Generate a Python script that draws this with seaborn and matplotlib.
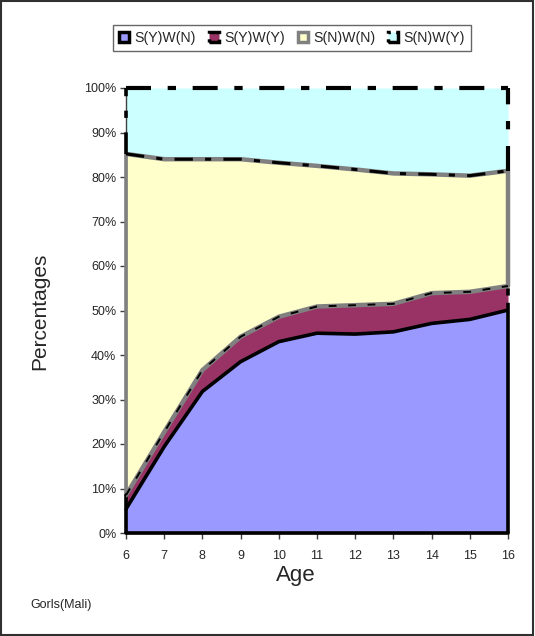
import matplotlib
matplotlib.use("Agg")
import matplotlib.pyplot as plt
from matplotlib.patches import Patch, Rectangle
import numpy as np
import pandas as pd
import seaborn as sns

# Age groups and share (%) of girls in each category
ages = [6, 7, 8, 9, 10, 11, 12, 13, 14, 15, 16]
syw_n = [5.4, 19.4, 31.8, 38.5, 43.0, 44.9, 44.7, 45.2, 47.1, 48.0, 50.1]
syw_y = [3.1, 3.3, 4.8, 5.6, 5.6, 6.0, 6.5, 6.3, 6.8, 6.2, 5.4]
snw_n = [76.7, 61.3, 47.4, 39.9, 34.6, 31.6, 30.5, 29.3, 26.7, 26.1, 25.9]
snw_y = [14.8, 16.0, 16.0, 16.0, 16.8, 17.5, 18.3, 19.2, 19.4, 19.7, 18.6]
series_names = ["S(Y)W(N)", "S(Y)W(Y)", "S(N)W(N)", "S(N)W(Y)"]
y_ticks = [0, 10, 20, 30, 40, 50, 60, 70, 80, 90, 100]

df = pd.DataFrame({"Age": ages, series_names[0]: syw_n, series_names[1]: syw_y,
                   series_names[2]: snw_n, series_names[3]: snw_y})
vals = df[series_names].to_numpy()
vals = vals / vals.sum(axis=1, keepdims=True) * 100.0
cum = np.cumsum(vals, axis=1)

sns.set_theme(style="white")
plt.rcParams["font.family"] = ["Liberation Sans", "DejaVu Sans"]

fig = plt.figure(figsize=(5.35, 6.36), dpi=100)
ax = fig.add_axes([126 / 535, 1 - 533 / 636, (508 - 126) / 535, (533 - 88) / 636])

fills = ["#9999FF", "#993366", "#FFFFCC", "#CCFFFF"]
x = df["Age"].to_numpy()
lower = np.zeros(len(x))
for i, name in enumerate(series_names):
    upper = cum[:, i]
    ax.fill_between(x, lower, upper, color=fills[i], linewidth=0, zorder=1)
    lower = upper

# Series outlines (Excel-like borders)
lw = 2.6
# blue series: solid black outline (bottom, sides, top)
ax.plot([x[0], x[0]], [0, cum[0, 0]], color="black", lw=lw, zorder=5, clip_on=False, solid_capstyle="butt")
ax.plot([x[-1], x[-1]], [0, cum[-1, 0]], color="black", lw=lw, zorder=5, clip_on=False, solid_capstyle="butt")
ax.plot([x[0], x[-1]], [0, 0], color="black", lw=lw, zorder=5, clip_on=False)
sns.lineplot(x=x, y=cum[:, 0], ax=ax, color="black", lw=lw, zorder=6)

# maroon series: grey/black dashed top
ax.plot([x[-1], x[-1]], [cum[-1, 0], cum[-1, 1]], color="black", lw=lw, ls=(0, (2, 2)), zorder=5, clip_on=False)
sns.lineplot(x=x, y=cum[:, 1], ax=ax, color="#808080", lw=lw + 0.6, zorder=6)
sns.lineplot(x=x, y=cum[:, 1], ax=ax, color="black", lw=1.4, ls=(0, (4, 6)), zorder=7)

# yellow series: grey outline on sides
ax.plot([x[0], x[0]], [cum[0, 1], cum[0, 2]], color="#808080", lw=lw, zorder=5, clip_on=False)
ax.plot([x[-1], x[-1]], [cum[-1, 1], cum[-1, 2]], color="#808080", lw=lw + 0.6, zorder=5, clip_on=False)
ax.plot([x[0], x[0]], [cum[0, 0], cum[0, 1]], color="black", lw=lw, zorder=5, clip_on=False)

# cyan series: dash-dot black outline
sns.lineplot(x=x, y=cum[:, 2], ax=ax, color="#808080", lw=lw + 0.6, zorder=6)
sns.lineplot(x=x, y=cum[:, 2], ax=ax, color="black", lw=2.2, ls=(0, (6, 4, 2, 4)), zorder=7)
dd = (0, (6, 4, 2, 4))
ax.plot([x[0], x[-1]], [100, 100], color="black", lw=lw + 0.4, ls=dd, zorder=7, clip_on=False)
ax.plot([x[0], x[0]], [cum[0, 2], 100], color="black", lw=lw, ls=dd, zorder=7, clip_on=False)
ax.plot([x[-1], x[-1]], [cum[-1, 2], 100], color="black", lw=lw + 0.4, ls=dd, zorder=7, clip_on=False)

ax.set_xlim(6, 16)
ax.set_ylim(0, 100)
ax.set_xticks(ages)
ax.set_xticklabels([str(a) for a in ages], fontsize=9)
ax.set_yticks(y_ticks)
ax.set_yticklabels([f"{t}%" for t in y_ticks], fontsize=9)
ax.tick_params(axis="both", direction="out", length=4, width=1, color="#404040",
               bottom=True, left=True, pad=8)
ax.tick_params(axis="y", pad=3)
for side in ["top", "right"]:
    ax.spines[side].set_visible(False)
for side in ["left", "bottom"]:
    ax.spines[side].set_color("#404040")
    ax.spines[side].set_linewidth(1)
ax.set_xlabel("")
ax.set_ylabel("")
ax.grid(False)

fig.text(296 / 535, 1 - 576 / 636, "Age", fontsize=16, ha="center", va="center")
fig.text(40 / 535, 1 - 311 / 636, "Percentages", fontsize=15, rotation=90,
         ha="center", va="center")
fig.text(30 / 535, 1 - 605 / 636, "Gorls(Mali)", fontsize=9, ha="left", va="center")

handles = [
    Patch(facecolor=fills[0], edgecolor="black", linewidth=2.5),
    Patch(facecolor=fills[1], edgecolor="black", linewidth=2.5, linestyle="--"),
    Patch(facecolor=fills[2], edgecolor="#808080", linewidth=2.5),
    Patch(facecolor=fills[3], edgecolor="black", linewidth=2.5, linestyle="-."),
]
leg = fig.legend(handles, series_names, loc="center", bbox_to_anchor=(292 / 535, 1 - 38 / 636),
                 ncol=4, fontsize=10.2, frameon=True, fancybox=False, handlelength=0.7,
                 handleheight=0.7, handletextpad=0.35, columnspacing=0.95, borderpad=0.45)
leg.get_frame().set_edgecolor("#404040")
leg.get_frame().set_linewidth(1)

fig.patches.append(Rectangle((0.001, 0.001), 0.996, 0.997, transform=fig.transFigure,
                             fill=False, edgecolor="#303030", linewidth=1.5))

fig.savefig("out.png", dpi=100)
